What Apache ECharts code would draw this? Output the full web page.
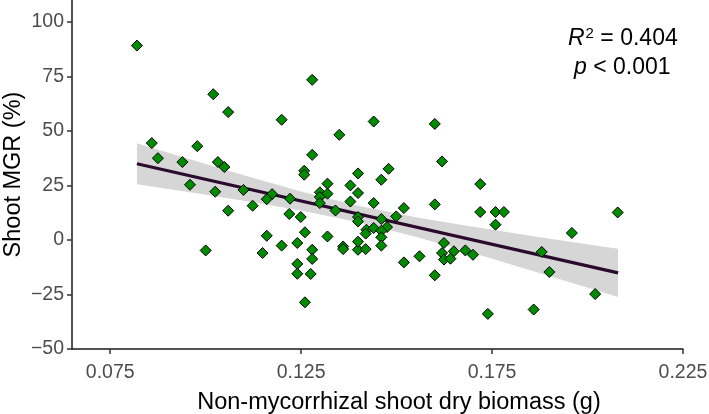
<!DOCTYPE html>
<html>
<head>
<meta charset="utf-8">
<script src="https://cdn.jsdelivr.net/npm/echarts@6/dist/echarts.min.js"></script>
<style>
html,body{margin:0;padding:0;background:#fff;}
#chart{width:709px;height:414px;}
</style>
</head>
<body>
<div id="chart"></div>
<script>
// Observed points: non-mycorrhizal shoot dry biomass (g) vs shoot MGR (%)
const biomass = [0.0820,0.1020,0.1059,0.1199,0.0859,0.0978,0.0875,0.0939,0.1032,0.1049,
  0.0959,0.1025,0.1099,0.1174,0.1160,0.1123,0.1059,0.1160,0.1000,0.1149,
  0.1279,0.1440,0.1350,0.1279,0.1258,0.1258,0.1399,0.1479,0.1460,0.1319,
  0.1379,0.1221,0.1299,0.1319,0.1299,0.1299,0.1399,0.1379,0.1440,0.1340,
  0.1519,0.1499,0.1399,0.1399,0.1460,0.1219,0.1249,0.1421,0.1419,0.1440,
  0.1475,0.1460,0.1460,0.1260,0.1319,0.1199,0.1240,0.1360,0.1360,0.1399,
  0.1399,0.1419,0.1460,0.1279,0.1279,0.1240,0.1240,0.1275,0.1260,0.1519,
  0.1600,0.1619,0.1719,0.1600,0.1719,0.1759,0.1781,0.1759,0.1624,0.1619,
  0.1650,0.1624,0.1641,0.1680,0.1700,0.1560,0.1600,0.1739,0.1859,0.2079,
  0.1959,0.1880,0.1900,0.2020];
const mgr = [89.1,66.8,58.6,55.1,44.4,43.0,37.5,35.7,35.7,33.4,
  25.3,22.1,22.9,21.0,18.7,15.7,13.4,1.9,-4.8,-6.0,
  73.4,54.3,48.2,39.0,31.7,29.9,30.5,32.6,27.6,25.8,
  25.0,18.9,21.8,21.2,19.7,16.9,21.5,17.6,16.9,13.5,
  14.6,10.8,10.5,8.5,9.6,11.9,10.5,4.7,2.9,5.5,
  5.9,4.2,1.2,3.5,1.6,-2.6,-1.4,-3.0,-4.2,-4.5,
  -0.8,-4.2,-2.6,-4.5,-8.7,-11.0,-15.5,-15.6,-28.6,-10.3,
  53.2,36.0,25.6,16.3,12.8,12.8,12.8,7.0,-1.4,-6.0,
  -5.2,-9.0,-8.6,-4.8,-6.8,-7.5,-16.2,-33.9,-31.9,12.6,
  3.2,-5.5,-14.7,-24.8];

// Fitted regression line
const fitX = [0.082, 0.208];
const fitY = [34.9, -15.1];

// Confidence band edges
const bandX = [0.082,0.095,0.110,0.125,0.139,0.155,0.170,0.185,0.198,0.208];
const bandUpper = [44.3,37.4,29.6,22.2,16.0,10.4,6.0,1.9,-1.5,-4.0];
const bandLower = [25.5,22.1,18.0,13.5,8.5,1.5,-6.0,-13.9,-20.8,-26.2];

// Tick labels
const xTicks = [0.075, 0.125, 0.175, 0.225];
const yTicks = [-50, -25, 0, 25, 50, 75, 100];

const chart = echarts.init(document.getElementById('chart'), null, {renderer: 'canvas'});
const fontFam = '"Liberation Sans", Arial, Helvetica, sans-serif';
const axisCol = '#1a1a1a';

const option = {
  animation: false,
  backgroundColor: '#ffffff',
  grid: {left: 72, right: 26, top: 0, bottom: 65, containLabel: false, outerBoundsMode: 'none'},
  xAxis: {
    type: 'value', min: 0.065, max: 0.225,
    name: 'Non-mycorrhizal shoot dry biomass (g)',
    nameLocation: 'middle', nameGap: 42, nameMoveOverlap: false,
    nameTextStyle: {fontFamily: fontFam, fontSize: 23.5, color: '#000', padding: [0,0,0,43]},
    axisLine: {show: true, onZero: false, lineStyle: {color: axisCol, width: 1.5}},
    axisTick: {show: true, length: 5, customValues: xTicks, lineStyle: {color: '#333', width: 1.5}},
    axisLabel: {customValues: xTicks, margin: 14, color: '#4d4d4d', fontFamily: fontFam, fontSize: 19.5,
      formatter: v => v.toFixed(3)},
    splitLine: {show: false}
  },
  yAxis: {
    type: 'value', min: -50, max: 110,
    name: 'Shoot MGR (%)',
    nameLocation: 'middle', nameGap: 46, nameMoveOverlap: false,
    nameTextStyle: {fontFamily: fontFam, fontSize: 23.5, color: '#000'},
    axisLine: {show: true, onZero: false, lineStyle: {color: axisCol, width: 1.5}},
    axisTick: {show: true, length: 5, customValues: yTicks, lineStyle: {color: '#333', width: 1.5}},
    axisLabel: {customValues: yTicks, margin: 8, color: '#4d4d4d', fontFamily: fontFam, fontSize: 19.5,
      formatter: v => String(v).replace('-', '\u2212')},
    splitLine: {show: false}
  },
  series: [
    {
      type: 'custom',
      z: 1,
      silent: true,
      data: bandX.map((x, i) => [x, bandUpper[i], bandLower[i]]),
      encode: {x: 0, y: [1, 2]},
      renderItem: function (params, api) {
        if (params.dataIndex !== 0) return null;
        const pts = [];
        for (let i = 0; i < bandX.length; i++) pts.push(api.coord([bandX[i], bandUpper[i]]));
        for (let i = bandX.length - 1; i >= 0; i--) pts.push(api.coord([bandX[i], bandLower[i]]));
        return {type: 'polygon', shape: {points: pts}, style: {fill: '#d6d6d6'}};
      }
    },
    {
      type: 'line',
      z: 2,
      data: fitX.map((x, i) => [x, fitY[i]]),
      showSymbol: false,
      symbol: 'none',
      lineStyle: {color: '#2a0b2e', width: 3.2}
    },
    {
      type: 'scatter',
      z: 3,
      data: biomass.map((x, i) => [x, mgr[i]]),
      symbol: 'diamond',
      symbolSize: [11, 11],
      itemStyle: {color: '#008b00', opacity: 1, borderColor: '#000', borderWidth: 1}
    }
  ],
  graphic: [
    {
      type: 'text', left: 628 - 60, top: 26,
      style: {
        x: 60, textAlign: 'center',
        text: '{i|R}{sup|2}{n| = 0.404}',
        rich: {
          i: {fontFamily: fontFam, fontStyle: 'italic', fontSize: 23, fill: '#000', lineHeight: 26},
          sup: {fontFamily: fontFam, fontSize: 15, fill: '#000', lineHeight: 15, verticalAlign: 'bottom', padding: [0,0,11,1]},
          n: {fontFamily: fontFam, fontSize: 23, fill: '#000', lineHeight: 26}
        }
      }
    },
    {
      type: 'text', left: 634 - 60, top: 56,
      style: {
        x: 60, textAlign: 'center',
        text: '{i|p}{n| < 0.001}',
        rich: {
          i: {fontFamily: fontFam, fontStyle: 'italic', fontSize: 23, fill: '#000', lineHeight: 26},
          n: {fontFamily: fontFam, fontSize: 23, fill: '#000', lineHeight: 26}
        }
      }
    }
  ]
};
chart.setOption(option);
</script>
</body>
</html>
